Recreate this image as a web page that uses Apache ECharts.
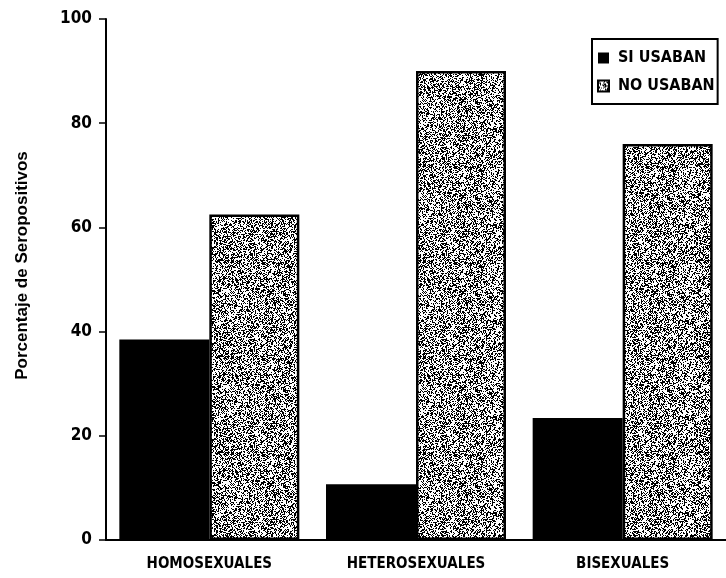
<!DOCTYPE html>
<html>
<head>
<meta charset="utf-8">
<script src="https://cdn.jsdelivr.net/npm/echarts@6/dist/echarts.min.js"></script>
<style>html,body{margin:0;padding:0;background:#fff}#c{width:726px;height:578px}</style>
</head>
<body>
<div id="c"></div>
<script>
const categories = ['HOMOSEXUALES', 'HETEROSEXUALES', 'BISEXUALES'];
const seriesNames = ['SI USABAN', 'NO USABAN'];
const siUsaban = [38.5, 10.7, 23.4];
const noUsaban = [62.5, 90, 76];
const yMin = 0, yMax = 100, yInterval = 20;

// stipple texture (style only, deterministic)
function makeStipple() {
  const cv = document.createElement('canvas');
  cv.width = 96; cv.height = 96;
  const ctx = cv.getContext('2d');
  ctx.fillStyle = '#ffffff';
  ctx.fillRect(0, 0, 96, 96);
  let s = 12345;
  const rnd = () => { s = (s * 1103515245 + 12345) & 0x7fffffff; return s / 0x7fffffff; };
  ctx.fillStyle = '#000000';
  for (let y = 0; y < 96; y++) {
    for (let x = 0; x < 96; x++) {
      if (rnd() < 0.42) ctx.fillRect(x, y, 1, 1);
    }
  }
  return cv;
}
const stipple = makeStipple();
const narrow = "'Liberation Sans Narrow', 'DejaVu Sans Condensed', 'Arial Narrow', sans-serif";

const chart = echarts.init(document.getElementById('c'), null, {renderer: 'canvas'});
chart.setOption({
  animation: false,
  backgroundColor: '#fff',
  grid: {left: 106, right: -6, top: 19, bottom: 38, containLabel: false},
  legend: {
    orient: 'vertical',
    left: 592, top: 39,
    data: seriesNames,
    itemWidth: 11, itemHeight: 11, itemGap: 12,
    padding: [11, 3, 10, 5],
    borderColor: '#000', borderWidth: 2,
    textStyle: {fontFamily: narrow, fontWeight: 'bold', fontSize: 16, color: '#000', padding: [0, 0, 0, 4]},
    icon: 'rect'
  },
  xAxis: {
    type: 'category',
    data: categories,
    axisLine: {lineStyle: {color: '#000', width: 2}},
    axisTick: {show: false},
    axisLabel: {fontFamily: narrow, fontWeight: 'bold', fontSize: 15, color: '#000', margin: 17}
  },
  yAxis: {
    type: 'value',
    min: yMin, max: yMax, interval: yInterval,
    name: 'Porcentaje de Seropositivos',
    nameLocation: 'middle',
    nameGap: 75,
    nameTextStyle: {fontFamily: "'Liberation Sans', Arial, sans-serif", fontWeight: 'bold', fontSize: 17, color: '#000', padding: [0, 0, 0, 28]},
    axisLine: {show: true, lineStyle: {color: '#000', width: 2}},
    axisTick: {show: true, length: 7, lineStyle: {color: '#000', width: 1.5}},
    axisLabel: {fontFamily: narrow, fontWeight: 'bold', fontSize: 17, color: '#000', margin: 14},
    splitLine: {show: false}
  },
  series: [
    {
      name: seriesNames[0], type: 'bar', data: siUsaban,
      barWidth: 90, barGap: '0%',
      itemStyle: {color: '#000'}
    },
    {
      name: seriesNames[1], type: 'bar', data: noUsaban,
      barWidth: 90, barGap: '0%',
      itemStyle: {color: {image: stipple, repeat: 'repeat'}, borderColor: '#000', borderWidth: 2.5}
    }
  ]
});
</script>
</body>
</html>
